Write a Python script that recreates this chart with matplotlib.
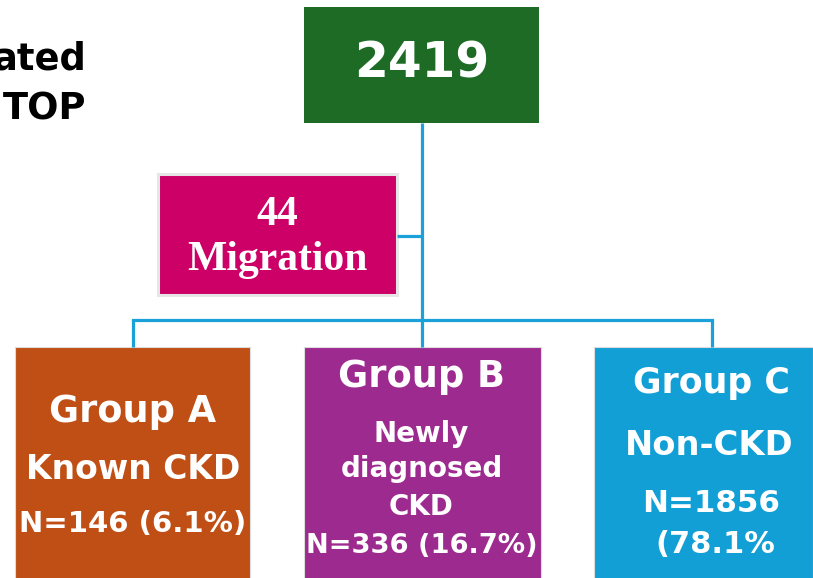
import matplotlib
matplotlib.use("Agg")
import matplotlib.pyplot as plt
from matplotlib.patches import Rectangle

# data
total = 2419
migration = 44
group_names = ["Group A", "Group B", "Group C"]
group_desc = ["Known CKD", "Newly\ndiagnosed\nCKD", "Non-CKD"]
group_n = [146, 336, 1856]
group_pct = ["6.1%", "16.7%", "78.1%"]
side_label = ["ated", "TOP"]

# colours
green = "#1e6b26"
magenta = "#cc0066"
group_colors = ["#c04f15", "#9d2a8f", "#129fd6"]
line_blue = "#1ba1d9"

W, H = 813, 578
fig = plt.figure(figsize=(W / 100, H / 100), dpi=100)
ax = fig.add_axes([0, 0, 1, 1])
ax.set_xlim(0, W)
ax.set_ylim(H, 0)
ax.axis("off")

# connectors
lw = 2.3
ax.plot([422, 422], [123, 320], color=line_blue, lw=lw, solid_capstyle="butt")
ax.plot([397, 422], [236, 236], color=line_blue, lw=lw, solid_capstyle="butt")
ax.plot([133, 712], [320, 320], color=line_blue, lw=lw, solid_capstyle="projecting")
for x in [133, 422, 712]:
    ax.plot([x, x], [320, 347], color=line_blue, lw=lw, solid_capstyle="butt")

# top box
ax.add_patch(Rectangle((304, 7), 235, 116, facecolor=green, edgecolor="none"))
ax.text(421.5, 77, str(total), color="white", fontsize=35, fontweight="bold",
        ha="center", va="baseline")

# cut-off label at left
ax.text(86, 69, side_label[0], color="black", fontsize=26.6, fontweight="bold",
        ha="right", va="baseline")
ax.text(86, 120, side_label[1], color="black", fontsize=26.6, fontweight="bold",
        ha="right", va="baseline")

# migration box
ax.add_patch(Rectangle((158, 174), 239, 121, facecolor=magenta,
                       edgecolor="#e6e6e6", lw=2.2))
ax.text(277, 225, str(migration), color="white", fontsize=30, fontweight="bold",
        family="Liberation Serif", ha="center", va="baseline")
ax.text(277, 270, "Migration", color="white", fontsize=30, fontweight="bold",
        family="Liberation Serif", ha="center", va="baseline")

# group boxes
box_x = [15, 304, 594]
box_w = [235, 237, 219]
for i in range(3):
    ax.add_patch(Rectangle((box_x[i], 347), box_w[i], H - 347 + 5,
                           facecolor=group_colors[i], edgecolor="#dcdcdc", lw=0.8))

# group A text
ax.text(133, 422, group_names[0], color="white", fontsize=26.4, fontweight="bold",
        ha="center", va="baseline")
ax.text(133, 479, group_desc[0], color="white", fontsize=23.8, fontweight="bold",
        ha="center", va="baseline")
ax.text(133, 532, f"N={group_n[0]} ({group_pct[0]})", color="white", fontsize=21,
        fontweight="bold", ha="center", va="baseline")

# group B text
ax.text(421.5, 387, group_names[1], color="white", fontsize=26.5, fontweight="bold",
        ha="center", va="baseline")
for line, yb in zip(group_desc[1].split("\n"), [442, 477, 515]):
    ax.text(421.5, yb, line, color="white", fontsize=20, fontweight="bold",
            ha="center", va="baseline")
ax.text(422, 553, f"N={group_n[1]} ({group_pct[1]})", color="white", fontsize=19.6,
        fontweight="bold", ha="center", va="baseline")

# group C text
ax.text(711.5, 393, group_names[2], color="white", fontsize=25, fontweight="bold",
        ha="center", va="baseline")
ax.text(709, 455, group_desc[2], color="white", fontsize=24.3, fontweight="bold",
        ha="center", va="baseline")
ax.text(711, 512, f"N={group_n[2]}", color="white", fontsize=22.3, fontweight="bold",
        ha="center", va="baseline")
ax.text(715, 553, f"({group_pct[2]}", color="white", fontsize=22, fontweight="bold",
        ha="center", va="baseline")

fig.savefig("out.png", dpi=100, facecolor="white")
